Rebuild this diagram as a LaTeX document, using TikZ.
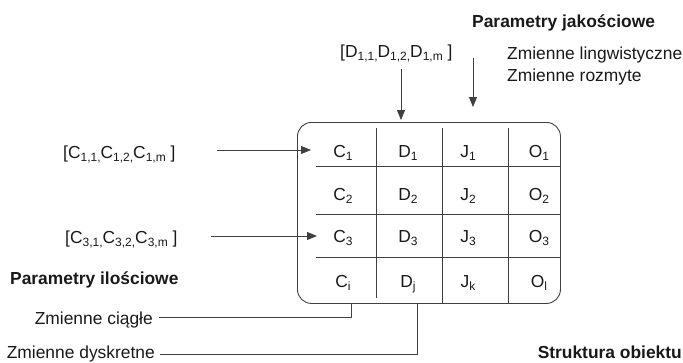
\documentclass[tikz,border=0pt]{standalone}
\usepackage{fontspec}
\setmainfont{Liberation Sans}
\usetikzlibrary{arrows.meta}
\newcommand{\sbs}[1]{\raisebox{-3pt}{\fontsize{12}{13}\selectfont #1}}
\begin{document}
\begin{tikzpicture}[x=1pt,y=-1pt,
  every node/.style={font=\fontsize{17.4}{20}\selectfont, inner sep=0pt, text=black!90},
  ln/.style={draw=black!75, line width=0.8pt},
  arr/.style={ln, -{Triangle[length=10pt,width=8pt]}},
  cell/.style={anchor=base},
  lbl/.style={anchor=base west},
  lble/.style={anchor=base east},
  bold/.style={font=\fontsize{17.4}{20}\selectfont\bfseries}]
\useasboundingbox (0,0) rectangle (683,362);
% table frame
\node[draw=black!75, line width=0.9pt, rounded corners=14pt, minimum width=263pt, minimum height=181pt, anchor=north west] (tab) at (297,122) {};
% grid lines
\draw[ln] (376,128) -- (376,298);
\draw[ln] (442,128) -- (442,303);
\draw[ln] (508,128) -- (508,303);
\draw[ln] (316,166) -- (560,166);
\draw[ln] (316,214) -- (560,214);
\draw[ln] (316,257) -- (560,257);
% cells
\node[cell] (c1) at (343,157) {C\sbs{1}};
\node[cell] (d1) at (408,157) {D\sbs{1}};
\node[cell] (j1) at (468,157) {J\sbs{1}};
\node[cell] (o1) at (539,157) {O\sbs{1}};
\node[cell] (c2) at (343,200) {C\sbs{2}};
\node[cell] (d2) at (408,200) {D\sbs{2}};
\node[cell] (j2) at (468,200) {J\sbs{2}};
\node[cell] (o2) at (539,200) {O\sbs{2}};
\node[cell] (c3) at (343,242) {C\sbs{3}};
\node[cell] (d3) at (408,242) {D\sbs{3}};
\node[cell] (j3) at (468,242) {J\sbs{3}};
\node[cell] (o3) at (539,242) {O\sbs{3}};
\node[cell] (c4) at (343,287) {C\sbs{i}};
\node[cell] (d4) at (408,287) {D\sbs{j}};
\node[cell] (j4) at (468,287) {J\sbs{k}};
\node[cell] (o4) at (539,287) {O\sbs{l}};
% labels
\node[lbl, bold] (pj) at (472,27) {Parametry jakościowe};
\node[lbl] (zl) at (507,59) {Zmienne lingwistyczne};
\node[lbl] (zr) at (507,81) {Zmienne rozmyte};
\node[lbl] (ld) at (340,57) {[D\sbs{1,1,}D\sbs{1,2,}D\sbs{1,m} ]};
\node[lbl] (lc1) at (63,158) {[C\sbs{1,1,}C\sbs{1,2,}C\sbs{1,m} ]};
\node[lbl] (lc3) at (65,243) {[C\sbs{3,1,}C\sbs{3,2,}C\sbs{3,m} ]};
\node[lbl, bold] (pi) at (10,284) {Parametry ilościowe};
\node[lble] (zc) at (153,324) {Zmienne ciągłe};
\node[lble] (zd) at (155,358) {Zmienne dyskretne};
\node[lble, bold] (so) at (682,358) {Struktura obiektu};
% arrows
\coordinate (a1s) at (217,150); \coordinate (a1e) at (311,150);
\coordinate (a3s) at (211,236); \coordinate (a3e) at (317,236);
\coordinate (ads) at (401,69);  \coordinate (ade) at (401,120);
\coordinate (ajs) at (473,58);  \coordinate (aje) at (473,107);
\draw[arr] (a1s) -- (a1e);
\draw[arr] (a3s) -- (a3e);
\draw[arr] (ads) -- (ade);
\draw[arr] (ajs) -- (aje);
% lower connectors
\coordinate (ciB) at (351,303);
\coordinate (djB) at (417,303);
\draw[ln] (ciB) |- ([yshift=7pt,xshift=6pt]zc.base east);
\draw[ln] (djB) |- ([yshift=4pt,xshift=5pt]zd.base east);
\end{tikzpicture}
\end{document}
